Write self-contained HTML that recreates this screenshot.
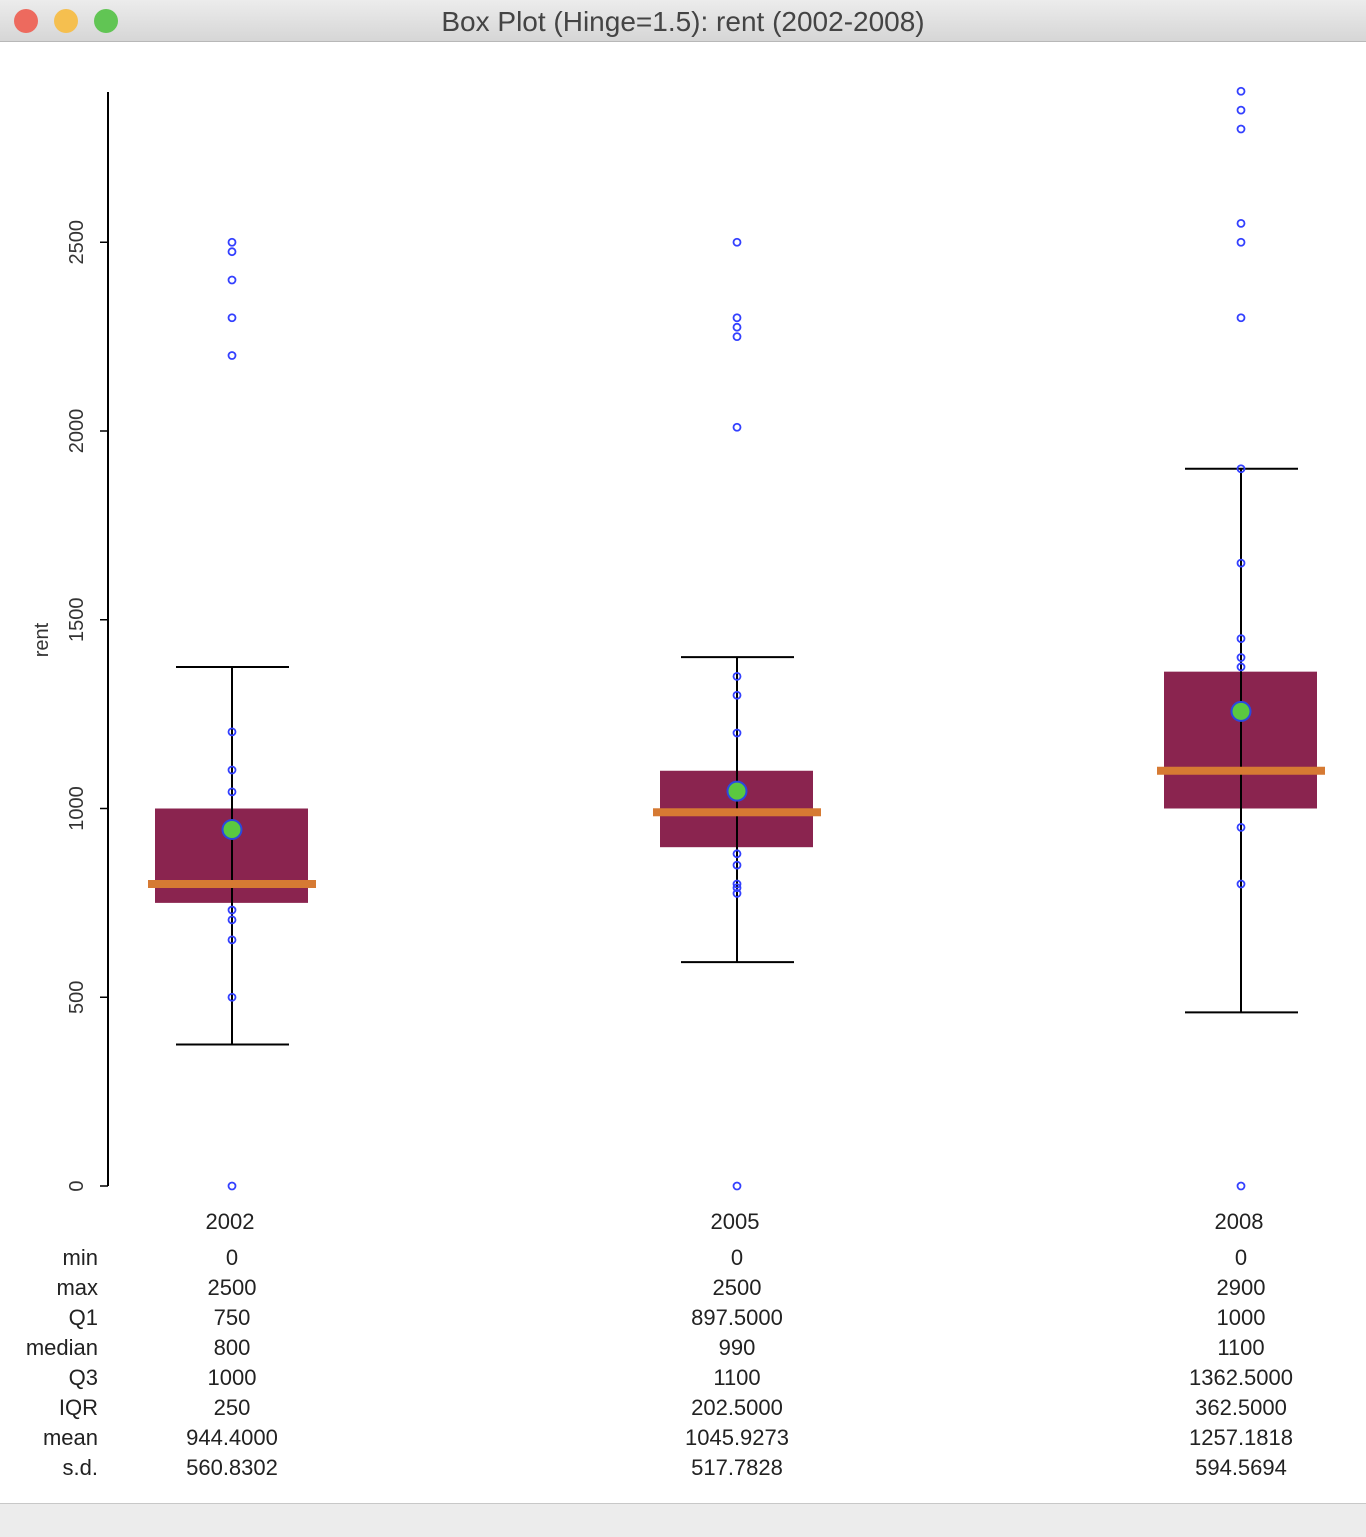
<!DOCTYPE html>
<html><head><meta charset="utf-8"><style>
body{margin:0;width:1366px;height:1536px;background:#fff;font-family:"Liberation Sans",sans-serif;overflow:hidden;position:relative}
#titlebar{position:absolute;left:0;top:0;width:1366px;height:41px;background:linear-gradient(#ececec,#d6d6d6);border-bottom:1px solid #b8b8b8}
#titlebar .t{position:absolute;left:0;width:1366px;top:6px;text-align:center;font-size:28px;color:#444}
.dot{position:absolute;top:9px;width:24px;height:24px;border-radius:50%}
#bottombar{position:absolute;left:0;top:1503px;width:1366px;height:33px;background:#ececec;border-top:1px solid #c8c8c8}
</style></head><body>
<div id="titlebar">
<div class="dot" style="left:14px;background:#ed6a5e"></div>
<div class="dot" style="left:54px;background:#f5bf4f"></div>
<div class="dot" style="left:94px;background:#61c554"></div>
<div class="t">Box Plot (Hinge=1.5): rent (2002-2008)</div>
</div>
<svg id="chart" width="1366" height="1503" style="position:absolute;left:0;top:0"></svg>
<div id="bottombar"></div>
<script>
const categories=["2002","2005","2008"];
const mins=[0,0,0];
const maxs=[2500,2500,2900];
const q1s=[750,897.5,1000];
const medians=[800,990,1100];
const q3s=[1000,1100,1362.5];
const iqrs=[250,202.5,362.5];
const means=[944.4,1045.9273,1257.1818];
const sds=[560.8302,517.7828,594.5694];
const whiskerLow=[375,593,460];
const whiskerHigh=[1375,1401,1900];
const points2002=[0,500,652,705,731,1044,1102,1203,2200,2300,2400,2475,2500];
const points2005=[0,775,790,800,850,880,1200,1300,1350,2010,2250,2275,2300,2500];
const points2008=[0,800,950,1375,1400,1450,1650,1900,2300,2500,2550,2800,2850,2900];
const yTicks=[0,500,1000,1500,2000,2500];
const tableRows=["min","max","Q1","median","Q3","IQR","mean","s.d."];
const tableText=[
["0","0","0"],["2500","2500","2900"],["750","897.5000","1000"],["800","990","1100"],
["1000","1100","1362.5000"],["250","202.5000","362.5000"],["944.4000","1045.9273","1257.1818"],["560.8302","517.7828","594.5694"]];

const svg=document.getElementById('chart');
const NS="http://www.w3.org/2000/svg";
const y=v=>1186-v*0.3775;
const xs=[232,737,1241];
const x=i=>xs[i];
function mk(tag,attrs,parent){const e=document.createElementNS(NS,tag);for(const k in attrs)e.setAttribute(k,attrs[k]);(parent||svg).appendChild(e);return e;}

const axis=mk('line',{x1:108,x2:108,y1:92,y2:1186,stroke:'#000','stroke-width':2});


yTicks.forEach(v=>{
  const t=mk('line',{x1:100,x2:108,y1:y(v),y2:y(v),stroke:'#000','stroke-width':1.5});
  
  
  const l=mk('text',{x:0,y:0,'font-size':20,fill:'#333','text-anchor':'middle',transform:`translate(83,${y(v)}) rotate(-90)`});
  l.textContent=v;
  
  
});
const yt=mk('text',{x:0,y:0,'font-size':20,fill:'#333','text-anchor':'middle',transform:'translate(48,640) rotate(-90)'});
yt.textContent='rent';



const allPoints=[points2002,points2005,points2008];
categories.forEach((c,i)=>{
  const g=mk('g',{});
  
  
  const cx=x(i);
  const box=mk('rect',{x:cx-77,y:y(q3s[i]),width:153,height:y(q1s[i])-y(q3s[i]),fill:'#8a244f'},g);
  
  
  const w=mk('line',{x1:cx,x2:cx,y1:y(whiskerHigh[i]),y2:y(whiskerLow[i]),stroke:'#000','stroke-width':2},g);
  
  
  [whiskerLow[i],whiskerHigh[i]].forEach(v=>{
    const cap=mk('line',{x1:cx-56,x2:cx+57,y1:y(v),y2:y(v),stroke:'#000','stroke-width':2},g);
    
    
  });
  const med=mk('rect',{x:cx-84,y:y(medians[i])-4,width:168,height:8,fill:'#d67a33'},g);
  
  
  allPoints[i].forEach(v=>{
    const p=mk('circle',{cx:cx,cy:y(v),r:3.5,fill:'none',stroke:'#3340ff','stroke-width':1.8},g);
    
    
  });
  const m=mk('circle',{cx:cx,cy:y(means[i]),r:9.5,fill:'#5bc840',stroke:'#2a48e0','stroke-width':2},g);
  
  
  const cl=mk('text',{x:cx-2,y:1229,'font-size':22,fill:'#222','text-anchor':'middle'});
  cl.textContent=c;
  
  
  tableRows.forEach((r,j)=>{
    const tv=mk('text',{x:cx,y:1265+j*30,'font-size':22,fill:'#222','text-anchor':'middle'});
    tv.textContent=tableText[j][i];
    
    
  });
});
tableRows.forEach((r,j)=>{
  const tl=mk('text',{x:98,y:1265+j*30,'font-size':22,fill:'#222','text-anchor':'end'});
  tl.textContent=r;
  
  
});
</script>
</body></html>
